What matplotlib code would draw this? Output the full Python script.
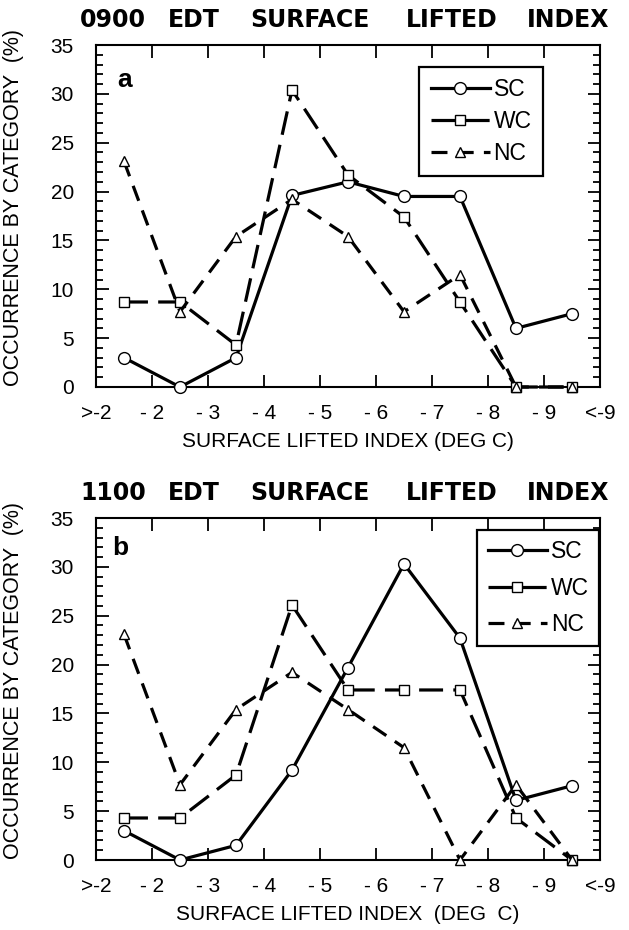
import matplotlib
matplotlib.use("Agg")
import matplotlib.pyplot as plt
from matplotlib.ticker import MultipleLocator, FixedLocator

plt.rcParams['font.family'] = ['Liberation Sans', 'DejaVu Sans']

# ---------------- data ----------------
x_tick_labels = ['>-2', '- 2', '- 3', '- 4', '- 5', '- 6', '- 7', '- 8', '- 9', '<-9']
series_names = ['SC', 'WC', 'NC']

title_a_words = ['0900', 'EDT', 'SURFACE', 'LIFTED', 'INDEX']
title_b_words = ['1100', 'EDT', 'SURFACE', 'LIFTED', 'INDEX']

sc_0900 = [3.0, 0.0, 3.0, 19.6, 21.0, 19.5, 19.5, 6.0, 7.5]
wc_0900 = [8.7, 8.7, 4.3, 30.4, 21.7, 17.4, 8.7, 0.0, 0.0]
nc_0900 = [23.1, 7.7, 15.4, 19.2, 15.4, 7.7, 11.5, 0.0, 0.0]

sc_1100 = [3.0, 0.0, 1.5, 9.2, 19.7, 30.3, 22.7, 6.1, 7.6]
wc_1100 = [4.3, 4.3, 8.7, 26.1, 17.4, 17.4, 17.4, 4.3, 0.0]
nc_1100 = [23.1, 7.7, 15.4, 19.2, 15.4, 11.5, 0.0, 7.7, 0.0]

xlabel_a = 'SURFACE LIFTED INDEX (DEG C)'
xlabel_b = 'SURFACE LIFTED INDEX  (DEG  C)'
ylabel = 'OCCURRENCE BY CATEGORY  (%)'
# --------------------------------------

W, H = 629, 930
fig = plt.figure(figsize=(W / 100, H / 100), dpi=100)

styles = {
    'SC': dict(linestyle='-', marker='o', markersize=8.5),
    'WC': dict(linestyle=(0, (7.5, 3.2)), marker='s', markersize=7),
    'NC': dict(linestyle=(0, (5.0, 3.2)), marker='^', markersize=7.5),
}

xpos = [i + 0.5 for i in range(len(sc_0900))]


def panel(rect, data, letter, letter_xy, xlabel, legend_anchor, legend_ls, legend_bp):
    ax = fig.add_axes(rect)
    for name, vals in zip(series_names, data):
        st = styles[name]
        ax.plot(xpos, vals, color='black', lw=2.3, linestyle=st['linestyle'],
                marker=st['marker'], markersize=st['markersize'],
                markerfacecolor='white', markeredgecolor='black',
                markeredgewidth=1.0, label=name, clip_on=False, zorder=3)
    ax.set_xlim(0, len(x_tick_labels) - 1)
    ax.set_ylim(0, 35)
    ax.xaxis.set_major_locator(FixedLocator(range(len(x_tick_labels))))
    ax.set_xticklabels(x_tick_labels)
    ax.yaxis.set_major_locator(MultipleLocator(5))
    ax.yaxis.set_minor_locator(MultipleLocator(1))
    ax.tick_params(axis='both', which='both', direction='in',
                   top=True, right=True, width=1.3, labelsize=15)
    ax.tick_params(axis='y', which='major', length=9, pad=16)
    ax.tick_params(axis='y', which='minor', length=5)
    ax.tick_params(axis='x', which='major', length=9, pad=12)
    for s in ax.spines.values():
        s.set_linewidth(1.5)
    ax.set_xlabel(xlabel, fontsize=15, labelpad=7)
    ax.set_ylabel(ylabel, fontsize=15.5)
    ax.yaxis.set_label_coords(-0.143, 0.525)
    ax.text(letter_xy[0], letter_xy[1], letter, transform=ax.transAxes,
            fontsize=19, fontweight='bold', ha='center', va='center')
    leg = ax.legend(loc='upper right', bbox_to_anchor=legend_anchor,
                    borderaxespad=0, fontsize=16.5, handlelength=2.6,
                    handletextpad=0.15, borderpad=legend_bp,
                    labelspacing=legend_ls,
                    fancybox=False, framealpha=1, edgecolor='black')
    leg.get_frame().set_linewidth(1.6)
    return ax


ax_a = panel([96 / W, (H - 387) / H, 504 / W, 342 / H],
             [sc_0900, wc_0900, nc_0900], 'a', (0.056, 0.898), xlabel_a,
             (0.887, 0.936), 0.38, 0.5)
ax_b = panel([96 / W, (H - 860) / H, 504 / W, 342 / H],
             [sc_1100, wc_1100, nc_1100], 'b', (0.048, 0.912), xlabel_b,
             (0.998, 0.965), 0.58, 0.45)

word_x = [113, 194, 310, 452, 568]
for words, yc in ((title_a_words, 20), (title_b_words, 493)):
    for w, xc in zip(words, word_x):
        fig.text(xc / W, 1 - yc / H, w, fontsize=17, fontweight='bold',
                 family='DejaVu Sans', ha='center', va='center')

fig.savefig('out.png', dpi=100)
